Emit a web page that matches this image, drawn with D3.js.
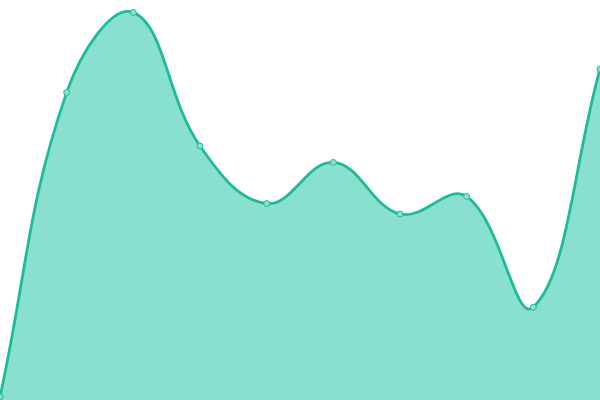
<!DOCTYPE html>
<html>
<head>
<meta charset="utf-8">
<script src="https://cdn.jsdelivr.net/npm/d3@7"></script>
<style>
  html, body { margin: 0; padding: 0; background: #fff; }
  svg { display: block; }
</style>
</head>
<body>
<div id="chart"></div>
<script>
// values, y axis 0..100
const labels = ['1', '2', '3', '4', '5', '6', '7', '8', '9', '10'];
const values = [0.8, 76.9, 96.9, 63.5, 49.1, 59.4, 46.5, 50.9, 23.2, 82.7];

const width = 600, height = 400;
const tension = 0.4;

// spline with distance weighted tangents, control points kept in the plot box
function splineCurve(context) {
  this._context = context;
}
splineCurve.prototype = {
  areaStart: function() { this._line = 0; },
  areaEnd: function() { this._line = NaN; },
  lineStart: function() { this._pts = []; },
  point: function(x, y) { this._pts.push([+x, +y]); },
  lineEnd: function() {
    const p = this._pts, n = p.length, ctx = this._context;
    if (n) {
      if (this._line) ctx.lineTo(p[0][0], p[0][1]);
      else ctx.moveTo(p[0][0], p[0][1]);
    }
    const cps = p.map(function(cur, i) {
      const prev = p[i - 1] || cur, next = p[i + 1] || cur;
      const d01 = Math.hypot(cur[0] - prev[0], cur[1] - prev[1]);
      const d12 = Math.hypot(next[0] - cur[0], next[1] - cur[1]);
      let s01 = d01 / (d01 + d12), s12 = d12 / (d01 + d12);
      if (isNaN(s01)) s01 = 0;
      if (isNaN(s12)) s12 = 0;
      const fa = tension * s01, fb = tension * s12;
      const dx = next[0] - prev[0], dy = next[1] - prev[1];
      const clampX = v => Math.max(0, Math.min(width, v));
      const clampY = v => Math.max(0, Math.min(height, v));
      return {
        prev: [clampX(cur[0] - fa * dx), clampY(cur[1] - fa * dy)],
        next: [clampX(cur[0] + fb * dx), clampY(cur[1] + fb * dy)]
      };
    });
    for (let i = 0; i < n - 1; i++) {
      ctx.bezierCurveTo(cps[i].next[0], cps[i].next[1],
        cps[i + 1].prev[0], cps[i + 1].prev[1], p[i + 1][0], p[i + 1][1]);
    }
    if (this._line || (this._line !== 0 && n === 1)) ctx.closePath();
    this._line = 1 - this._line;
  }
};
const curve = context => new splineCurve(context);

const svg = d3.select('#chart')
  .append('svg')
  .attr('width', width)
  .attr('height', height);

const x = d3.scalePoint().domain(labels).range([0, width]);
const y = d3.scaleLinear().domain([0, 100]).range([height, 0]);

const area = d3.area()
  .x((d, i) => x(labels[i]))
  .y0(height)
  .y1(d => y(d))
  .curve(curve);

const line = d3.line()
  .x((d, i) => x(labels[i]))
  .y(d => y(d))
  .curve(curve);

svg.append('path')
  .attr('d', area(values))
  .attr('fill', '#8ae0cf');

svg.append('path')
  .attr('d', line(values))
  .attr('fill', 'none')
  .attr('stroke', '#1abc9c')
  .attr('stroke-width', 2.8);

svg.selectAll('circle')
  .data(values)
  .enter()
  .append('circle')
  .attr('cx', (d, i) => x(labels[i]))
  .attr('cy', d => y(d))
  .attr('r', 3)
  .attr('fill', '#8ae0cf')
  .attr('stroke', '#1abc9c')
  .attr('stroke-width', 1);
</script>
</body>
</html>
